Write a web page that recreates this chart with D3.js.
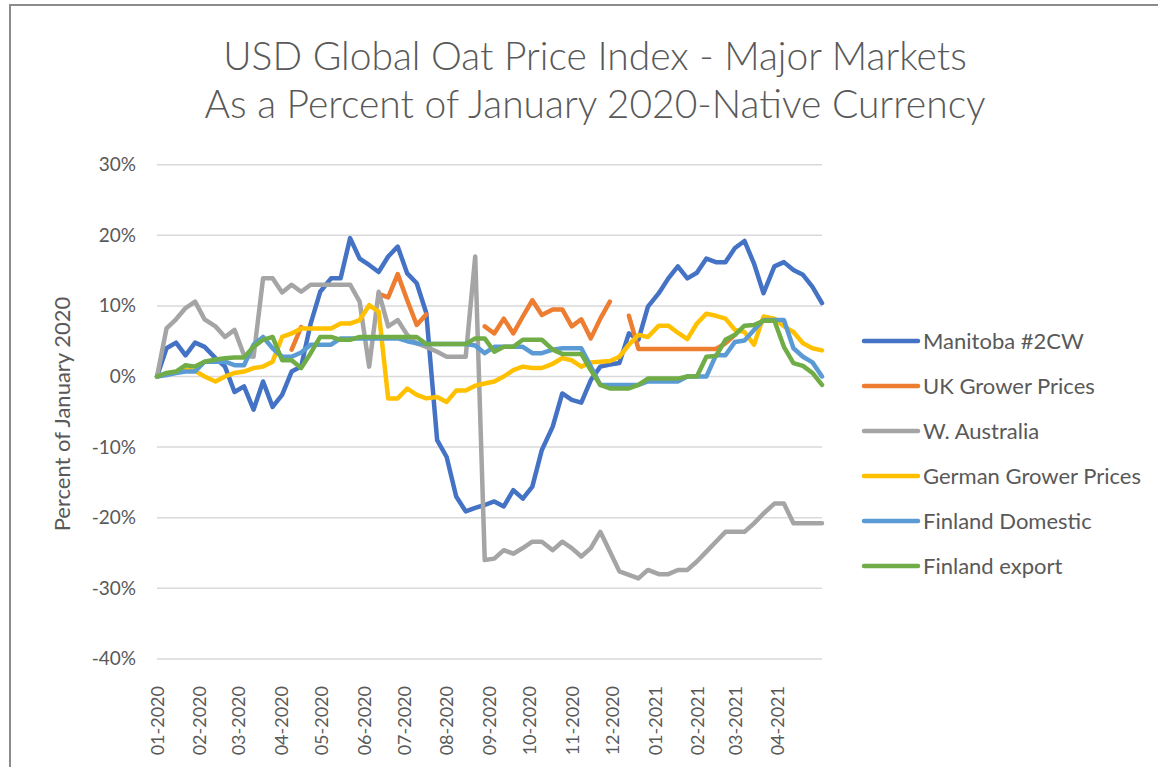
<!DOCTYPE html>
<html lang="en">
<head>
  <meta charset="UTF-8">
  <title>USD Global Oat Price Index</title>
  <script src="https://d3js.org/d3.v7.min.js"></script>
  <style>
    body { margin: 0; background: #fff; }
    svg text { font-family: Lato, "Open Sans", sans-serif; fill: #595959; }
  </style>
</head>
<body>

  <svg width="1158" height="767"></svg>

  <script>
    // weekly readings, percent of January 2020 (null = no quote that week)
    const nWeeks = 70;
    const manitoba = [0, 4.0, 4.8, 3.0, 4.8, 4.2, 2.6, 1.4, -2.2, -1.4,
      -4.7, -0.7, -4.3, -2.6, 0.7, 1.4, 7.5, 12.0, 13.9, 13.9,
      19.6, 16.7, 15.8, 14.8, 17.0, 18.4, 14.6, 13.2, 9.0, -9.0,
      -11.4, -17.0, -19.1, -18.6, -18.2, -17.7, -18.4, -16.1, -17.3, -15.6,
      -10.4, -7.1, -2.4, -3.3, -3.7, -0.5, 1.4, 1.7, 1.9, 6.1,
      5.2, 9.9, 11.8, 13.9, 15.6, 13.9, 14.7, 16.7, 16.2, 16.2,
      18.2, 19.2, 16.0, 11.8, 15.6, 16.2, 15.1, 14.4, 12.7, 10.4];
    const ukGrower = [null, null, null, null, null, null, null, null, null, null,
      null, null, null, null, 3.8, 7.0, null, null, null, null,
      null, null, null, 11.7, 11.2, 14.5, 10.8, 7.3, 8.8, null,
      null, null, null, null, 7.1, 6.1, 8.2, 6.1, 8.5, 10.8,
      8.7, 9.5, 9.5, 7.1, 8.1, 5.4, 8.2, 10.6, null, 8.6,
      3.9, 3.9, 3.9, 3.9, 3.9, 3.9, 3.9, 3.9, 3.9, 4.7,
      5.9, null, null, null, null, null, null, null, null, null];
    const waAustralia = [0, 6.8, 8.1, 9.7, 10.6, 8.1, 7.1, 5.6, 6.6, 3.0,
      2.8, 13.9, 13.9, 11.9, 13.0, 12.0, 13.0, 13.0, 13.0, 13.0,
      13.0, 10.6, 1.4, 12.0, 7.1, 8.0, 5.9, 4.7, 4.2, 3.5,
      2.8, 2.8, 2.8, 17.0, -26.0, -25.8, -24.6, -25.1, -24.3, -23.4,
      -23.4, -24.6, -23.4, -24.3, -25.5, -24.3, -22.0, -24.8, -27.6, -28.1,
      -28.6, -27.4, -28.0, -28.0, -27.4, -27.4, -26.2, -24.8, -23.4, -22.0,
      -22.0, -22.0, -20.8, -19.4, -18.0, -18.0, -20.8, -20.8, -20.8, -20.8];
    const germanGrower = [0, 0.3, 0.6, 1.0, 0.8, 0, -0.7, 0, 0.5, 0.7,
      1.2, 1.4, 2.1, 5.6, 6.1, 6.8, 6.8, 6.8, 6.8, 7.5,
      7.5, 8.0, 10.1, 9.2, -3.1, -3.1, -1.7, -2.6, -3.1, -2.9,
      -3.6, -2.0, -2.0, -1.3, -1.0, -0.7, 0, 0.9, 1.4, 1.2,
      1.2, 1.8, 2.6, 2.3, 1.4, 2.0, 2.1, 2.2, 2.8, 4.5,
      5.9, 5.6, 7.2, 7.2, 6.2, 5.3, 7.5, 8.9, 8.6, 8.2,
      6.6, 6.3, 4.5, 8.5, 8.2, 7.1, 6.3, 4.7, 4.0, 3.7];
    const finlandDomestic = [0, 0.2, 0.5, 0.7, 0.7, 2.1, 2.1, 2.1, 1.6, 1.6,
      4.5, 5.6, 4.0, 2.8, 2.8, 3.4, 4.5, 4.5, 4.5, 5.4,
      5.4, 5.4, 5.4, 5.4, 5.4, 5.4, 5.0, 4.7, 4.6, 4.6,
      4.6, 4.6, 4.6, 4.4, 3.3, 4.2, 4.2, 4.2, 4.2, 3.3,
      3.3, 3.8, 4.0, 4.0, 4.0, 1.4, -1.2, -1.2, -1.2, -1.2,
      -1.2, -0.7, -0.7, -0.7, -0.7, 0, 0, 0, 3.0, 3.0,
      4.9, 5.1, 6.6, 8.0, 8.0, 8.0, 4.0, 2.8, 2.0, 0];
    const finlandExport = [0, 0.5, 0.7, 1.6, 1.4, 2.1, 2.4, 2.6, 2.7, 2.7,
      4.2, 5.2, 5.6, 2.3, 2.3, 1.2, 3.3, 5.6, 5.6, 5.2,
      5.2, 5.6, 5.6, 5.6, 5.6, 5.6, 5.6, 5.6, 4.6, 4.6,
      4.6, 4.6, 4.6, 5.4, 5.4, 3.5, 4.2, 4.2, 5.2, 5.2,
      5.2, 3.8, 3.2, 3.2, 3.2, 0.9, -1.2, -1.7, -1.7, -1.7,
      -1.2, -0.3, -0.3, -0.3, -0.3, 0, 0, 2.8, 2.9, 5.2,
      5.9, 7.2, 7.3, 7.9, 7.9, 4.2, 1.9, 1.5, 0.5, -1.2];

    const seriesNames = ["Manitoba #2CW", "UK Grower Prices", "W. Australia",
      "German Grower Prices", "Finland Domestic", "Finland export"];
    const seriesColors = ["#4472C4", "#ED7D31", "#A5A5A5", "#FFC000", "#5B9BD5", "#70AD47"];
    const yTicks = [30, 20, 10, 0, -10, -20, -30, -40];

    const series = [manitoba, ukGrower, waAustralia, germanGrower, finlandDomestic, finlandExport];

    const startDate = new Date(2020, 0, 1);
    const endDate = d3.timeDay.offset(startDate, 489);
    const weeks = d3.range(nWeeks).map(i =>
      d3.timeDay.offset(startDate, Math.round(i * 489 / (nWeeks - 1))));
    // month labels 01-2020 .. 04-2021
    const monthTicks = d3.timeMonth.range(startDate, new Date(2021, 3, 2));

    const svg = d3.select("svg");

    // outer chart frame
    svg.append("rect")
      .attr("x", 10).attr("y", 5)
      .attr("width", 1170).attr("height", 790)
      .attr("fill", "none")
      .attr("stroke", "#8c8c8c")
      .attr("stroke-width", 2);

    const x = d3.scaleTime()
      .domain([startDate, endDate])
      .range([157, 822]);

    const y = d3.scaleLinear()
      .domain([-40, 30])
      .range([658.9, 164.7]);

    // gridlines
    svg.append("g")
      .selectAll("line")
      .data(yTicks)
      .join("line")
      .attr("x1", 157).attr("x2", 822)
      .attr("y1", d => y(d)).attr("y2", d => y(d))
      .attr("stroke", "#d9d9d9")
      .attr("stroke-width", 1.5);

    // y axis labels
    const yAxis = d3.axisLeft(y)
      .tickValues(yTicks)
      .tickFormat(d => d + "%")
      .tickSize(0)
      .tickPadding(0);
    svg.append("g")
      .attr("transform", "translate(136,0)")
      .call(yAxis)
      .call(g => g.select(".domain").remove())
      .selectAll("text")
      .attr("font-size", 19)
      .attr("font-family", null)
      .style("fill", "#595959");

    // x axis month labels
    const xAxis = d3.axisBottom(x)
      .tickValues(monthTicks)
      .tickFormat(d3.timeFormat("%m-%Y"))
      .tickSize(0);
    svg.append("g")
      .attr("transform", "translate(0,659)")
      .call(xAxis)
      .call(g => g.select(".domain").remove())
      .selectAll("text")
      .attr("font-size", 18)
      .attr("font-family", null)
      .attr("transform", "rotate(-90)")
      .attr("text-anchor", "end")
      .attr("x", -27)
      .attr("y", 0)
      .attr("dy", "0.35em")
      .style("fill", "#595959");

    // lines
    const line = d3.line()
      .defined(d => d.v != null)
      .x(d => x(d.date))
      .y(d => y(d.v));

    svg.append("g")
      .selectAll("path")
      .data(series)
      .join("path")
      .attr("d", s => line(s.map((v, i) => ({ date: weeks[i], v: v }))))
      .attr("fill", "none")
      .attr("stroke", (s, i) => seriesColors[i])
      .attr("stroke-width", 4.5)
      .attr("stroke-linejoin", "round")
      .attr("stroke-linecap", "round");

    // title
    const title = svg.append("text")
      .attr("text-anchor", "middle")
      .attr("font-size", 39)
      .attr("font-weight", 300);
    title.append("tspan").attr("x", 595).attr("y", 70)
      .text("USD Global Oat Price Index - Major Markets");
    title.append("tspan").attr("x", 595).attr("y", 118)
      .text("As a Percent of January 2020-Native Currency");

    // y axis title
    svg.append("text")
      .attr("transform", "translate(70,414) rotate(-90)")
      .attr("text-anchor", "middle")
      .attr("font-size", 22)
      .text("Percent of January 2020");

    // legend
    const legend = svg.append("g")
      .attr("transform", "translate(863,341)");
    const item = legend.selectAll("g")
      .data(seriesNames)
      .join("g")
      .attr("transform", (d, i) => `translate(0,${i * 45})`);
    item.append("line")
      .attr("x1", 1).attr("x2", 55)
      .attr("stroke", (d, i) => seriesColors[i])
      .attr("stroke-width", 4.5)
      .attr("stroke-linecap", "round");
    item.append("text")
      .attr("x", 60)
      .attr("dy", "0.35em")
      .attr("font-size", 22)
      .text(d => d);
  </script>

</body>
</html>
